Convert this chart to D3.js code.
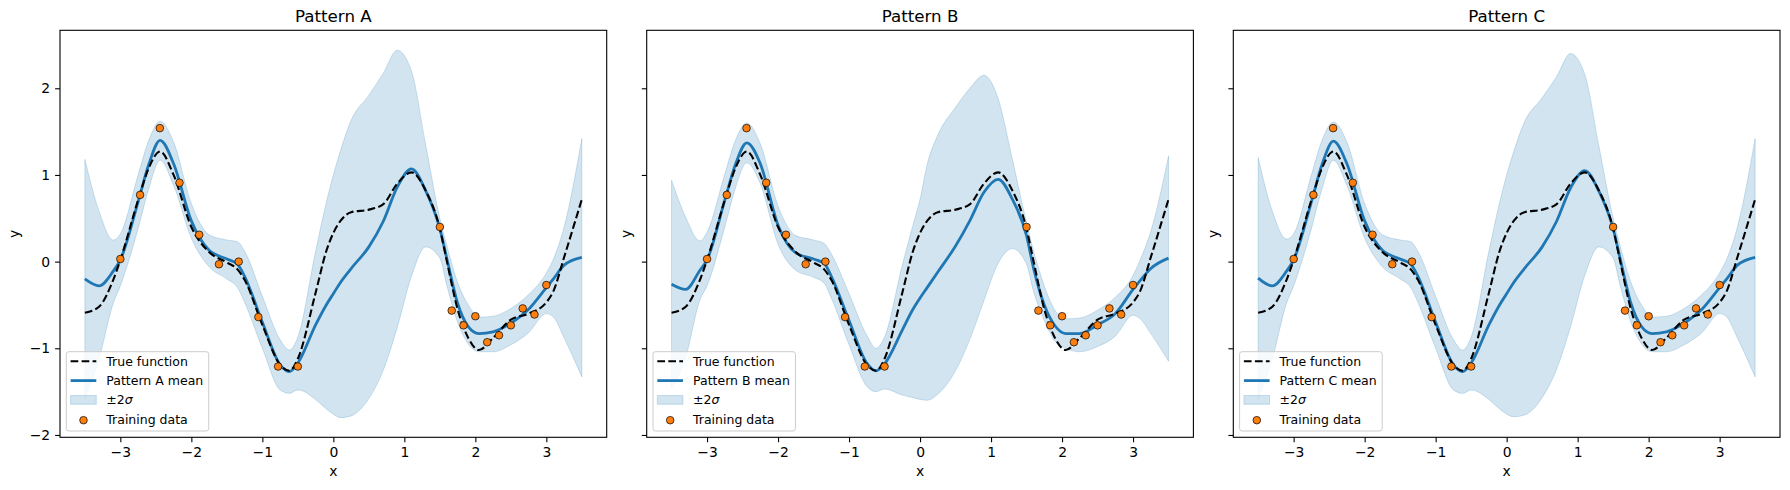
<!DOCTYPE html>
<html>
<head>
<meta charset="utf-8">
<script src="https://cdn.jsdelivr.net/npm/d3@7"></script>
<style>
  body { margin: 0; background: #fff; }
  svg { display: block; font-family: 'DejaVu Sans', sans-serif; }
</style>
</head>
<body>
<div id="chart"></div>
<script>
const xs = [-3.5, -3.3, -3.1, -3.0, -2.75, -2.6, -2.44, -2.25, -2.0, -1.75,
  -1.5, -1.35, -1.25, -1.0, -0.75, -0.62, -0.5, -0.25, -0.1, 0,
  0.1, 0.25, 0.5, 0.7, 0.9, 1.1, 1.3, 1.5, 1.6, 1.75,
  1.9, 2.05, 2.25, 2.5, 2.75, 3.0, 3.1, 3.25, 3.5]

const trueY = [-0.59, -0.52, -0.21, 0.02, 0.71, 1.08, 1.27, 1.00, 0.40, 0.11,
  -0.01, -0.09, -0.21, -0.73, -1.19, -1.26, -1.12, -0.36, 0.12, 0.33,
  0.47, 0.57, 0.60, 0.66, 0.90, 1.03, 0.82, 0.38, 0.00, -0.55,
  -0.88, -1.02, -0.88, -0.67, -0.60, -0.47, -0.34, 0.05, 0.72]

const meanA = [-0.20, -0.28, -0.11, 0.02, 0.69, 1.12, 1.40, 1.13, 0.47, 0.13,
  0.03, -0.03, -0.17, -0.70, -1.19, -1.27, -1.17, -0.73, -0.50, -0.37,
  -0.24, -0.08, 0.17, 0.46, 0.86, 1.07, 0.82, 0.38, 0.03, -0.48,
  -0.75, -0.83, -0.81, -0.71, -0.55, -0.30, -0.20, -0.04, 0.05]
const upperA = [1.18, 0.58, 0.25, 0.32, 1.00, 1.40, 1.62, 1.38, 0.67, 0.31,
  0.25, 0.23, 0.12, -0.40, -0.90, -1.02, -0.87, 0.12, 0.68, 1.00,
  1.28, 1.63, 1.92, 2.17, 2.44, 2.20, 1.35, 0.50, 0.18, -0.24,
  -0.50, -0.64, -0.63, -0.54, -0.38, -0.13, 0.03, 0.40, 1.42]
const lowerA = [-1.58, -1.12, -0.48, -0.28, 0.38, 0.84, 1.17, 0.88, 0.27, -0.06,
  -0.20, -0.30, -0.47, -1.00, -1.48, -1.52, -1.48, -1.59, -1.70, -1.76,
  -1.80, -1.78, -1.58, -1.26, -0.76, -0.17, 0.17, 0.04, -0.28, -0.70,
  -0.95, -1.04, -1.04, -0.96, -0.82, -0.60, -0.64, -0.88, -1.33]

const meanB = [-0.26, -0.32, -0.10, 0.02, 0.71, 1.12, 1.37, 1.13, 0.42, 0.10,
  0.03, -0.02, -0.17, -0.68, -1.17, -1.26, -1.18, -0.79, -0.55, -0.42,
  -0.30, -0.12, 0.18, 0.47, 0.80, 0.95, 0.72, 0.30, -0.08, -0.50,
  -0.74, -0.83, -0.83, -0.73, -0.60, -0.32, -0.22, -0.08, 0.04]
const upperB = [0.94, 0.51, 0.24, 0.34, 1.01, 1.40, 1.60, 1.36, 0.64, 0.30,
  0.25, 0.21, 0.09, -0.37, -0.85, -1.00, -0.87, -0.04, 0.42, 0.72,
  1.12, 1.46, 1.78, 2.00, 2.15, 1.88, 1.18, 0.45, 0.12, -0.28,
  -0.56, -0.66, -0.65, -0.56, -0.41, -0.16, 0.02, 0.35, 1.22]
const lowerB = [-1.46, -1.10, -0.44, -0.28, 0.40, 0.85, 1.14, 0.90, 0.20, -0.10,
  -0.18, -0.25, -0.42, -0.96, -1.44, -1.50, -1.47, -1.54, -1.57, -1.59,
  -1.60, -1.53, -1.26, -0.90, -0.45, -0.02, 0.15, -0.03, -0.35, -0.68,
  -0.92, -1.00, -1.04, -0.98, -0.86, -0.62, -0.66, -0.83, -1.15]

const meanC = [-0.19, -0.28, -0.11, 0.02, 0.69, 1.12, 1.39, 1.13, 0.47, 0.13,
  0.03, -0.03, -0.17, -0.70, -1.19, -1.27, -1.17, -0.73, -0.50, -0.37,
  -0.24, -0.08, 0.17, 0.46, 0.85, 1.05, 0.81, 0.38, 0.03, -0.48,
  -0.75, -0.83, -0.81, -0.71, -0.55, -0.30, -0.20, -0.04, 0.05]
const upperC = [1.20, 0.58, 0.26, 0.32, 1.00, 1.40, 1.61, 1.38, 0.67, 0.31,
  0.25, 0.23, 0.12, -0.40, -0.90, -1.02, -0.87, 0.12, 0.68, 1.00,
  1.27, 1.61, 1.89, 2.13, 2.40, 2.16, 1.33, 0.50, 0.18, -0.24,
  -0.50, -0.64, -0.63, -0.54, -0.38, -0.13, 0.03, 0.40, 1.42]
const lowerC = [-1.58, -1.12, -0.48, -0.28, 0.38, 0.84, 1.17, 0.88, 0.27, -0.06,
  -0.20, -0.30, -0.47, -1.00, -1.48, -1.52, -1.48, -1.59, -1.70, -1.76,
  -1.79, -1.77, -1.57, -1.25, -0.75, -0.16, 0.17, 0.04, -0.28, -0.70,
  -0.95, -1.04, -1.04, -0.96, -0.82, -0.60, -0.64, -0.88, -1.33]

const trainX = [-3.0, -2.722, -2.444, -2.167, -1.889, -1.611, -1.333, -1.056, -0.778, -0.5,
  1.5, 1.667, 1.833, 2.0, 2.167, 2.333, 2.5, 2.667, 2.833, 3.0]
const trainY = [0.03, 0.77, 1.54, 0.91, 0.31, -0.03, 0.0, -0.64, -1.21, -1.21,
  0.40, -0.565, -0.735, -0.63, -0.93, -0.85, -0.735, -0.54, -0.61, -0.27]

const patterns = ['Pattern A', 'Pattern B', 'Pattern C']
const xTicks = [-3, -2, -1, 0, 1, 2, 3]
const yTicks = [-2, -1, 0, 1, 2]

const panels = [
  { name: patterns[0], mean: meanA, upper: upperA, lower: lowerA },
  { name: patterns[1], mean: meanB, upper: upperB, lower: lowerB },
  { name: patterns[2], mean: meanC, upper: upperC, lower: lowerC }
]

// layout, in page pixels
const panelLeft = [60, 646.7, 1233.3]
const panelW = 546.7
const panelTop = 30.3
const panelH = 407
const blue = '#1f77b4'
const orange = '#ff7f0e'

const svg = d3.select('#chart')
  .append('svg')
  .attr('width', 1790)
  .attr('height', 490)

svg.append('rect').attr('width', 1790).attr('height', 490).attr('fill', '#fff')

const x = d3.scaleLinear().domain([-3.85, 3.85]).range([0, panelW])
const y = d3.scaleLinear().domain([-2.027, 2.669]).range([panelH, 0])

function drawPanel(p, i) {
  const g = svg.append('g')
    .attr('transform', 'translate(' + panelLeft[i] + ',' + panelTop + ')')

  // uncertainty band
  g.append('path')
    .datum(xs)
    .attr('fill', blue)
    .attr('fill-opacity', 0.2)
    .attr('stroke', blue)
    .attr('stroke-opacity', 0.2)
    .attr('stroke-width', 1)
    .attr('d', d3.area()
      .x(d => x(d))
      .y0((d, k) => y(p.lower[k]))
      .y1((d, k) => y(p.upper[k]))
      .curve(d3.curveMonotoneX))

  const line = d3.line()
    .x((d, k) => x(xs[k]))
    .y(d => y(d))
    .curve(d3.curveMonotoneX)

  // posterior mean
  g.append('path')
    .datum(p.mean)
    .attr('fill', 'none')
    .attr('stroke', blue)
    .attr('stroke-width', 2.8)
    .attr('d', line)

  // true function
  g.append('path')
    .datum(trueY)
    .attr('fill', 'none')
    .attr('stroke', '#000')
    .attr('stroke-width', 2.1)
    .attr('stroke-dasharray', '7.7,3.3')
    .attr('d', line)

  // training points
  g.selectAll('circle.train')
    .data(trainX)
    .join('circle')
    .attr('class', 'train')
    .attr('cx', d => x(d))
    .attr('cy', (d, k) => y(trainY[k]))
    .attr('r', 3.8)
    .attr('fill', orange)
    .attr('stroke', '#000')
    .attr('stroke-width', 0.7)

  // axes
  const xAxis = g.append('g')
    .attr('transform', 'translate(0,' + panelH + ')')
    .call(d3.axisBottom(x).tickValues(xTicks).tickSize(4.9).tickPadding(4.9))
  const yAxis = g.append('g')
    .call(d3.axisLeft(y).tickValues(yTicks).tickSize(4.9).tickPadding(4.9)
      .tickFormat(i === 0 ? d3.format('d') : () => ''))
  for (const ax of [xAxis, yAxis]) {
    ax.select('.domain').remove()
    ax.selectAll('line').attr('stroke', '#000').attr('stroke-width', 1.1)
    ax.selectAll('text')
      .attr('fill', '#000')
      .style('font-family', "'DejaVu Sans', sans-serif")
      .style('font-size', '13.9px')
  }

  // frame
  g.append('rect')
    .attr('width', panelW)
    .attr('height', panelH)
    .attr('fill', 'none')
    .attr('stroke', '#000')
    .attr('stroke-width', 1.1)

  // title and axis labels
  g.append('text')
    .attr('x', panelW / 2)
    .attr('y', -8.3)
    .attr('text-anchor', 'middle')
    .style('font-size', '16.7px')
    .text(p.name)

  g.append('text')
    .attr('x', panelW / 2)
    .attr('y', 446.5 - panelTop + 30)
    .attr('text-anchor', 'middle')
    .style('font-size', '13.9px')
    .text('x')

  g.append('text')
    .attr('transform', 'translate(' + (i === 0 ? -41 : -15.5) + ',' + (panelH / 2) + ') rotate(-90)')
    .attr('text-anchor', 'middle')
    .style('font-size', '13.9px')
    .text('y')

  drawLegend(g, p)
}

function drawLegend(g, p) {
  const rowH = 19.3
  const boxH = 79.3
  const leg = g.append('g')
    .attr('transform', 'translate(6.3,' + (panelH - 6.3 - boxH) + ')')

  const box = leg.append('rect')
    .attr('height', boxH)
    .attr('rx', 2.5)
    .attr('fill', '#fff')
    .attr('fill-opacity', 0.8)
    .attr('stroke', '#cccccc')
    .attr('stroke-width', 1)

  const labels = ['True function', p.name + ' mean', null, 'Training data']
  const rowY = k => 9.6 + k * rowH

  leg.append('line')
    .attr('x1', 4.3).attr('x2', 30)
    .attr('y1', rowY(0)).attr('y2', rowY(0))
    .attr('stroke', '#000')
    .attr('stroke-width', 2.1)
    .attr('stroke-dasharray', '7.7,3.3')

  leg.append('line')
    .attr('x1', 4.3).attr('x2', 30)
    .attr('y1', rowY(1)).attr('y2', rowY(1))
    .attr('stroke', blue)
    .attr('stroke-width', 2.8)

  leg.append('rect')
    .attr('x', 4.3).attr('y', rowY(2) - 4.4)
    .attr('width', 25.7).attr('height', 8.8)
    .attr('fill', blue)
    .attr('fill-opacity', 0.2)
    .attr('stroke', blue)
    .attr('stroke-opacity', 0.2)

  leg.append('circle')
    .attr('cx', 17.2).attr('cy', rowY(3) + 1)
    .attr('r', 3.8)
    .attr('fill', orange)
    .attr('stroke', '#000')
    .attr('stroke-width', 0.7)

  let maxW = 0
  labels.forEach((t, k) => {
    const txt = leg.append('text')
      .attr('x', 40)
      .attr('y', rowY(k) + 4.5)
      .style('font-size', '12.5px')
    if (t === null) {
      txt.append('tspan').text('\u00b12')
      txt.append('tspan').style('font-style', 'italic').text('\u03c3')
    } else {
      txt.text(t)
    }
    maxW = Math.max(maxW, txt.node().getComputedTextLength())
  })

  box.attr('width', 40 + maxW + 5.5)
}

panels.forEach(drawPanel)
</script>
</body>
</html>
